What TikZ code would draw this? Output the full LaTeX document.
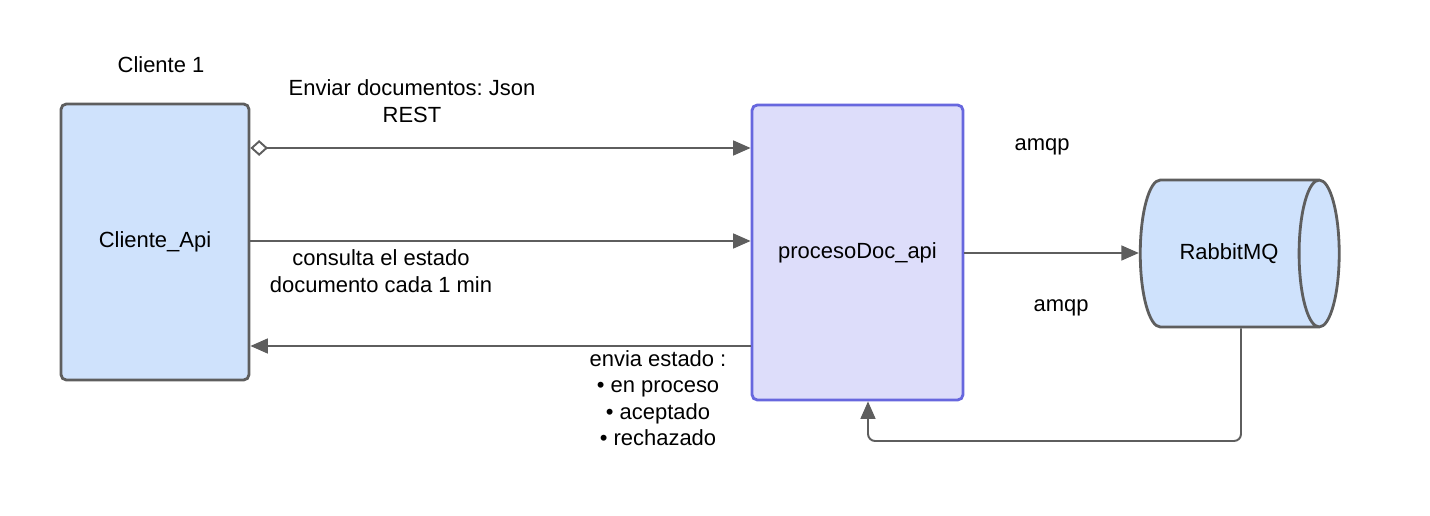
\documentclass[tikz,border=0pt]{standalone}
\usepackage{fontspec}
\setmainfont{Liberation Sans}
\frenchspacing
\usetikzlibrary{positioning}
\usetikzlibrary{arrows.meta,shapes.geometric}

\definecolor{linegray}{HTML}{5E5E5E}
\definecolor{cliblue}{HTML}{CFE2FC}
\definecolor{docfill}{HTML}{DDDDFA}
\definecolor{docline}{HTML}{6767DE}

\begin{document}
\begin{tikzpicture}[x=0.02cm,y=-0.02cm,
 every node/.style={font=\fontsize{12.5}{15}\selectfont,text=black},
 apibox/.style={draw=linegray,line width=1.6pt,rounded corners=3pt,fill=cliblue,minimum width=3.76cm,minimum height=5.52cm},
 docbox/.style={draw=docline,line width=1.6pt,rounded corners=3pt,fill=docfill,minimum width=4.22cm,minimum height=5.9cm},
 queue/.style={cylinder,draw=linegray,line width=1.6pt,aspect=2,cylinder uses custom fill,cylinder body fill=cliblue,cylinder end fill=cliblue,minimum height=3.98cm,minimum width=2.94cm,inner sep=0pt},
 send/.style={draw=linegray,line width=1.1pt,-{Triangle[length=10pt,width=8.5pt]}},
 lbl/.style={align=center,inner sep=0pt}]
 \useasboundingbox (0,0) rectangle (1430,516);
 \node[apibox] (cli) at (155,242) {Cliente\_Api};
 \node[docbox] (doc) at (857.5,252.5) {procesoDoc\_api};
 \node[queue] (mq) at (1229,253.5) {RabbitMQ};
 \node[lbl] (clitag) at (161,65) {Cliente 1};
 \node[lbl] (sendtag) at (412,101) {Enviar documentos: Json\\REST};
 \node[lbl] (asktag) at (381,271) {consulta el estado\\documento cada 1 min};
 \node[lbl] (statetag) at (658,398) {envia estado :\\\textbullet{} en proceso\\\textbullet{} aceptado\\\textbullet{} rechazado};
 \node[lbl] (amqpa) at (1042,147) {amqp};
 \node[lbl] (amqpb) at (1061,308) {amqp};
 \draw[send,{Diamond[open,fill=white,length=10pt,width=9pt]}-{Triangle[length=10pt,width=8.5pt]}] (cli.east |- 0,148) -- (doc.west |- 0,148);
 \draw[send] (cli.east |- 0,241) -- (doc.west |- 0,241);
 \draw[send] (doc.west |- 0,346) -- (cli.east |- 0,346);
 \draw[send] (doc.east |- 0,253) -- (mq.west |- 0,253);
 \draw[send,rounded corners=4pt] ([xshift=0.24cm]mq.south) |- (868,441) -- (doc.south -| 868,0);
\end{tikzpicture}
\end{document}
